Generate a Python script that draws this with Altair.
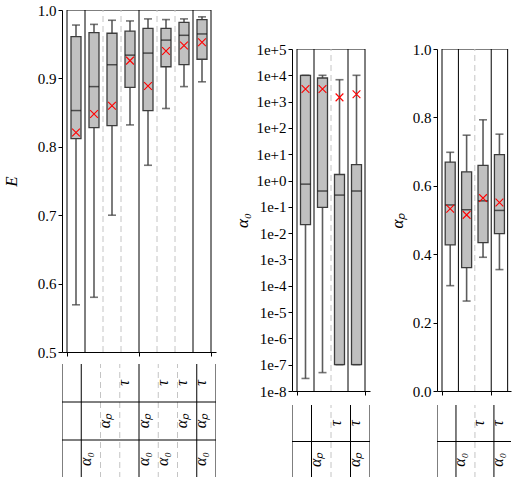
import altair as alt
import pandas as pd

FONT = "Liberation Serif"

# ---------------- E panel (8 configurations) ----------------
E_wlo = [0.569, 0.580, 0.700, 0.832, 0.773, 0.856, 0.888, 0.895]
E_q1 = [0.812, 0.828, 0.831, 0.887, 0.853, 0.917, 0.920, 0.928]
E_med = [0.853, 0.888, 0.920, 0.934, 0.937, 0.956, 0.963, 0.965]
E_q3 = [0.961, 0.967, 0.966, 0.969, 0.973, 0.973, 0.982, 0.986]
E_whi = [0.978, 0.979, 0.985, 0.984, 0.987, 0.986, 0.987, 0.990]
E_mean = [0.821, 0.848, 0.860, 0.926, 0.889, 0.940, 0.948, 0.953]
E_sets = [[], ["α₀"], ["αₚ"], ["τ"], ["α₀", "αₚ"], ["α₀", "τ"], ["αₚ", "τ"], ["α₀", "αₚ", "τ"]]
E_rows = ["α₀", "αₚ", "τ"]          # bottom to top
E_solid = [0, 1, 4, 7, 8]
E_dashed = [2, 3, 5, 6]
E_ticks = [0.5, 0.6, 0.7, 0.8, 0.9, 1.0]

# ---------------- alpha_0 panel (4 configurations) ----------------
A0_wlo = [3e-8, 5e-8, 1e-7, 1e-7]
A0_q1 = [0.021, 0.095, 1e-7, 1e-7]
A0_med = [0.73, 0.40, 0.28, 0.40]
A0_q3 = [1e4, 7900, 1.7, 4.0]
A0_whi = [1e4, 1e4, 6800, 1e4]
A0_mean = [3000, 3000, 1450, 1900]
A0_sets = [[], ["αₚ"], ["τ"], ["αₚ", "τ"]]
A0_rows = ["αₚ", "τ"]
A0_solid = [0, 1, 3, 4]
A0_dashed = [2]
A0_ticks = [1e-8, 1e-7, 1e-6, 1e-5, 1e-4, 1e-3, 1e-2, 1e-1, 1e0, 1e1, 1e2, 1e3, 1e4, 1e5]

# ---------------- alpha_p panel (4 configurations) ----------------
AP_wlo = [0.308, 0.263, 0.391, 0.355]
AP_q1 = [0.427, 0.361, 0.434, 0.460]
AP_med = [0.544, 0.530, 0.556, 0.528]
AP_q3 = [0.669, 0.641, 0.660, 0.691]
AP_whi = [0.698, 0.748, 0.793, 0.751]
AP_mean = [0.533, 0.515, 0.564, 0.551]
AP_sets = [[], ["α₀"], ["τ"], ["α₀", "τ"]]
AP_rows = ["α₀", "τ"]
AP_solid = [0, 1, 3, 4]
AP_dashed = [2]
AP_ticks = [0.0, 0.2, 0.4, 0.6, 0.8, 1.0]

X_MARK = "M-1,-1L1,1M-1,1L1,-1"


def box_panel(wlo, q1, med, q3, whi, mean, solid, dashed, ncols, xmax, width, height,
              ydomain, ytype, yticks, yfmt, ytitle, title_pad):
    df = pd.DataFrame({"c": [i + 0.5 for i in range(len(med))], "wlo": wlo, "q1": q1,
                       "med": med, "q3": q3, "whi": whi, "mean": mean})
    xs = alt.Scale(domain=[0, xmax], nice=False, zero=False)
    xax = alt.Axis(values=[v for v in range(ncols + 1) if v <= xmax], labels=False, ticks=True,
                   tickSize=4, grid=False, title=None, domain=True)
    ys = alt.Scale(type=ytype, domain=ydomain, nice=False)
    yax = alt.Axis(values=yticks, format=yfmt, grid=False, tickSize=4, labelPadding=2,
                   labelFont=FONT, labelFontSize=15, title=ytitle, titleFont=FONT,
                   titleFontSize=17, titleFontStyle="italic", titleFontWeight="normal",
                   titlePadding=title_pad)
    y0, y1 = ydomain

    top = alt.Chart(pd.DataFrame({"a": [0], "b": [ncols], "y": [y1]})).mark_rule(
        color="black", strokeWidth=1, clip=True).encode(
        x=alt.X("a:Q", scale=xs, axis=xax), x2="b:Q", y=alt.Y("y:Q", scale=ys, axis=yax))
    lsol = alt.Chart(pd.DataFrame({"b": solid, "y0": y0, "y1": y1})).mark_rule(
        color="black", strokeWidth=1, clip=True).encode(
        x=alt.X("b:Q", scale=xs), y=alt.Y("y0:Q", scale=ys), y2="y1:Q")
    ldas = alt.Chart(pd.DataFrame({"b": dashed, "y0": y0, "y1": y1})).mark_rule(
        color="#c4c4c4", strokeWidth=1, strokeDash=[6, 4], clip=True).encode(
        x=alt.X("b:Q", scale=xs), y=alt.Y("y0:Q", scale=ys), y2="y1:Q")
    base = alt.Chart(df)
    xq = alt.X("c:Q", scale=xs)
    whisk = base.mark_rule(color="#5c5c5c", strokeWidth=1.6).encode(
        x=xq, y=alt.Y("wlo:Q", scale=ys), y2="whi:Q")
    box = base.mark_bar(size=10, fill="#c0c0c0", stroke="#3c3c3c", strokeWidth=1.3).encode(
        x=xq, y=alt.Y("q1:Q", scale=ys), y2="q3:Q")
    cap_hi = base.mark_tick(orient="horizontal", size=8, thickness=1.6, color="#3c3c3c").encode(
        x=xq, y=alt.Y("whi:Q", scale=ys))
    cap_lo = base.mark_tick(orient="horizontal", size=8, thickness=1.6, color="#3c3c3c").encode(
        x=xq, y=alt.Y("wlo:Q", scale=ys))
    medl = base.mark_tick(orient="horizontal", size=10, thickness=1.5, color="#1a1a1a").encode(
        x=xq, y=alt.Y("med:Q", scale=ys))
    mn = base.mark_point(shape=X_MARK, size=60, color="red", strokeWidth=1.1,
                         filled=False, opacity=1).encode(
        x=xq, y=alt.Y("mean:Q", scale=ys))
    return alt.layer(top, lsol, ldas, whisk, box, cap_hi, cap_lo, medl, mn).properties(
        width=width, height=height)


def table_panel(sets, rows, solid, dashed, ncols, xmax, width, height):
    xs = alt.Scale(domain=[0, xmax], nice=False)
    ys = alt.Scale(domain=[0, len(rows)], nice=False)
    recs = []
    for i, s in enumerate(sets):
        for lab in s:
            recs.append({"c": i + 0.5, "r": rows.index(lab) + 0.5, "t": lab})
    lab_df = pd.DataFrame(recs)
    n = len(rows)
    lsol = alt.Chart(pd.DataFrame({"b": solid, "y0": 0, "y1": n})).mark_rule(
        color="black", strokeWidth=1, clip=True).encode(
        x=alt.X("b:Q", scale=xs, axis=None), y=alt.Y("y0:Q", scale=ys, axis=None), y2="y1:Q")
    ldas = alt.Chart(pd.DataFrame({"b": dashed, "y0": 0, "y1": n})).mark_rule(
        color="#c4c4c4", strokeWidth=1, strokeDash=[6, 4], clip=True).encode(
        x=alt.X("b:Q", scale=xs, axis=None), y=alt.Y("y0:Q", scale=ys, axis=None), y2="y1:Q")
    hrule = alt.Chart(pd.DataFrame({"r": list(range(1, n)), "a": 0, "e": ncols})).mark_rule(
        color="black", strokeWidth=1, clip=True).encode(
        x=alt.X("a:Q", scale=xs, axis=None), x2="e:Q", y=alt.Y("r:Q", scale=ys, axis=None))
    txt = alt.Chart(lab_df).mark_text(angle=270, align="center", baseline="alphabetic",
                                      font=FONT, fontSize=16, fontStyle="italic",
                                      color="black").encode(
        x=alt.X("c:Q", scale=xs, axis=None), y=alt.Y("r:Q", scale=ys, axis=None), text="t:N")
    return alt.layer(lsol, ldas, hrule, txt).properties(width=width, height=height)


def spacer(h):
    # invisible block that lowers the two small panels
    return alt.Chart(pd.DataFrame({"v": [0]})).mark_point(opacity=0).encode(
        x=alt.value(0), y=alt.value(0)).properties(width=10, height=h)


boxE = box_panel(E_wlo, E_q1, E_med, E_q3, E_whi, E_mean, E_solid, E_dashed, 8, 8, 154, 342,
                 [0.5, 1.0], "linear", E_ticks, ".1f", "E", 17)
tabE = table_panel(E_sets, E_rows, E_solid, E_dashed, 8, 8, 154, 114)

boxA0 = box_panel(A0_wlo, A0_q1, A0_med, A0_q3, A0_whi, A0_mean, A0_solid, A0_dashed, 4, 4, 78,
                  342, [1e-8, 1e5], "log", A0_ticks, ".0e", "α₀", 4)
tabA0 = table_panel(A0_sets, A0_rows, A0_solid, A0_dashed, 4, 4, 78, 73)

boxAP = box_panel(AP_wlo, AP_q1, AP_med, AP_q3, AP_whi, AP_mean, AP_solid, AP_dashed, 4, 3.9, 74,
                  342, [0.0, 1.0], "linear", AP_ticks, ".1f", "αₚ", 6)
tabAP = table_panel(AP_sets, AP_rows, AP_solid, AP_dashed, 4, 3.9, 74, 73)

colE = alt.vconcat(boxE, tabE, spacing=12, bounds="flush")
colA0 = alt.vconcat(spacer(25), boxA0, tabA0, spacing=14, bounds="flush")
colAP = alt.vconcat(spacer(25), boxAP, tabAP, spacing=14, bounds="flush")

chart = alt.hconcat(colE, colA0, colAP, spacing=16).properties(
    padding={"left": 1, "top": 2, "right": 0, "bottom": 0}
).configure_view(stroke="transparent").configure_axis(
    labelFont=FONT, titleFont=FONT, labelColor="black",
    titleColor="black", tickColor="black", domainColor="black"
)

chart.save("out.html", embed_options={"renderer": "svg", "actions": False})
